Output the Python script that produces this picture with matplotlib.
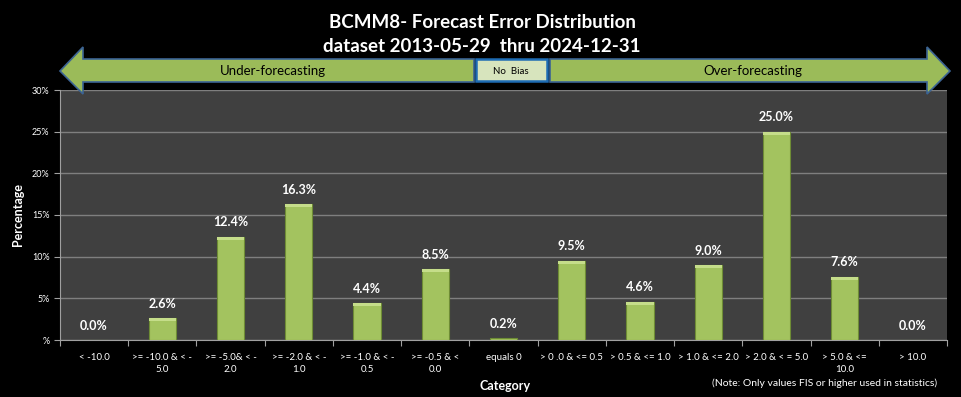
import matplotlib
matplotlib.use("Agg")
import matplotlib.pyplot as plt
from matplotlib.patches import Polygon, Rectangle

plt.rcParams['font.family'] = ['Lato', 'DejaVu Sans']

categories = ["< -10.0", ">= -10.0 & < -\n5.0", ">= -5.0& < -\n2.0", ">= -2.0 & < -\n1.0",
              ">= -1.0 & < -\n0.5", ">= -0.5 & <\n0.0", "equals 0", "> 0 .0 & <= 0.5",
              "> 0.5 & <= 1.0", "> 1.0 & <= 2.0", "> 2.0 & < = 5.0", "> 5.0 & <=\n10.0", "> 10.0"]
values = [0.0, 2.6, 12.4, 16.3, 4.4, 8.5, 0.2, 9.5, 4.6, 9.0, 25.0, 7.6, 0.0]
yticks = [0, 5, 10, 15, 20, 25, 30]
ytick_labels = ["%", "5%", "10%", "15%", "20%", "25%", "30%"]

W, H = 961, 397
fig = plt.figure(figsize=(W / 100, H / 100), dpi=100, facecolor='black')
ax = fig.add_axes([60 / W, 1 - 340 / H, (947 - 60) / W, (340 - 90) / H])
ax.set_facecolor('#404040')

x = list(range(len(values)))
bars = ax.bar(x, values, width=0.4, color='#a3c35f', edgecolor='#6e8c35', linewidth=0.8, zorder=3)
for b in bars:
    # light top bevel
    if b.get_height() > 0.3:
        ax.add_patch(Rectangle((b.get_x(), b.get_height() - 0.35), b.get_width(), 0.35,
                               facecolor='#c5dd8a', edgecolor='none', zorder=4))

for xi, v in zip(x, values):
    ax.text(xi, v + 1.0, f"{v:.1f}%", ha='center', va='bottom', color='white',
            fontsize=9, fontweight='bold', zorder=5)

ax.set_xlim(-0.5, len(values) - 0.5)
ax.set_ylim(0, 30)
ax.set_yticks(yticks)
ax.set_yticklabels(ytick_labels)
ax.set_xticks([i - 0.5 for i in range(len(values) + 1)], minor=False)
ax.set_xticklabels([])
ax.set_xticks(x, minor=True)
ax.set_xticklabels(categories, minor=True, linespacing=1.5)
ax.tick_params(axis='x', which='minor', length=0, pad=9, labelsize=7, colors='white')
ax.tick_params(axis='x', which='major', length=4, color='#a0a0a0')
ax.tick_params(axis='y', length=4, color='#a0a0a0', labelsize=6.5, labelcolor='white')
ax.grid(axis='y', color='#7f7f7f', linewidth=1, zorder=0)
for s in ['top', 'right']:
    ax.spines[s].set_visible(False)
for s in ['left', 'bottom']:
    ax.spines[s].set_color('#a0a0a0')

fig.text(18 / W, 1 - 215 / H, "Percentage", rotation=90, ha='center', va='center',
         color='white', fontsize=9, fontweight='bold')
fig.text(505 / W, 1 - 386 / H, "Category", ha='center', va='center',
         color='white', fontsize=9, fontweight='bold')
fig.text(825 / W, 1 - 383 / H, "(Note: Only values FIS or higher used in statistics)",
         ha='center', va='center', color='white', fontsize=7.5)

fig.text(482 / W, 1 - 22 / H, "BCMM8- Forecast Error Distribution", ha='center', va='center',
         color='white', fontsize=13.5, fontweight='bold')
fig.text(482 / W, 1 - 47 / H, "dataset 2013-05-29  thru 2024-12-31", ha='center', va='center',
         color='white', fontsize=13.5, fontweight='bold')


def fpts(pts):
    return [(px / W, 1 - py / H) for px, py in pts]


left_arrow = [(60, 71), (83, 47), (83, 59), (474, 59), (474, 82), (83, 82), (83, 94)]
right_arrow = [(550, 59), (927, 59), (927, 47), (950, 71), (927, 94), (927, 82), (550, 82)]
for pts in (left_arrow, right_arrow):
    fig.patches.append(Polygon(fpts(pts), closed=True, facecolor='#9bbb59', edgecolor='#3c6494',
                               linewidth=1.2, transform=fig.transFigure, zorder=5))
fig.patches.append(Polygon(fpts([(476, 59), (547, 59), (547, 81), (476, 81)]), closed=True,
                           facecolor='#d7e4bd', edgecolor='#1e6cb4', linewidth=1.8,
                           transform=fig.transFigure, zorder=6))
fig.text(273 / W, 1 - 71 / H, "Under-forecasting", ha='center', va='center', color='black',
         fontsize=9.5, zorder=7)
fig.text(753 / W, 1 - 71 / H, "Over-forecasting", ha='center', va='center', color='black',
         fontsize=9.5, zorder=7)
fig.text(511 / W, 1 - 71 / H, "No  Bias", ha='center', va='center', color='black',
         fontsize=7, zorder=7)

fig.savefig("out.png", dpi=100, facecolor='black')
